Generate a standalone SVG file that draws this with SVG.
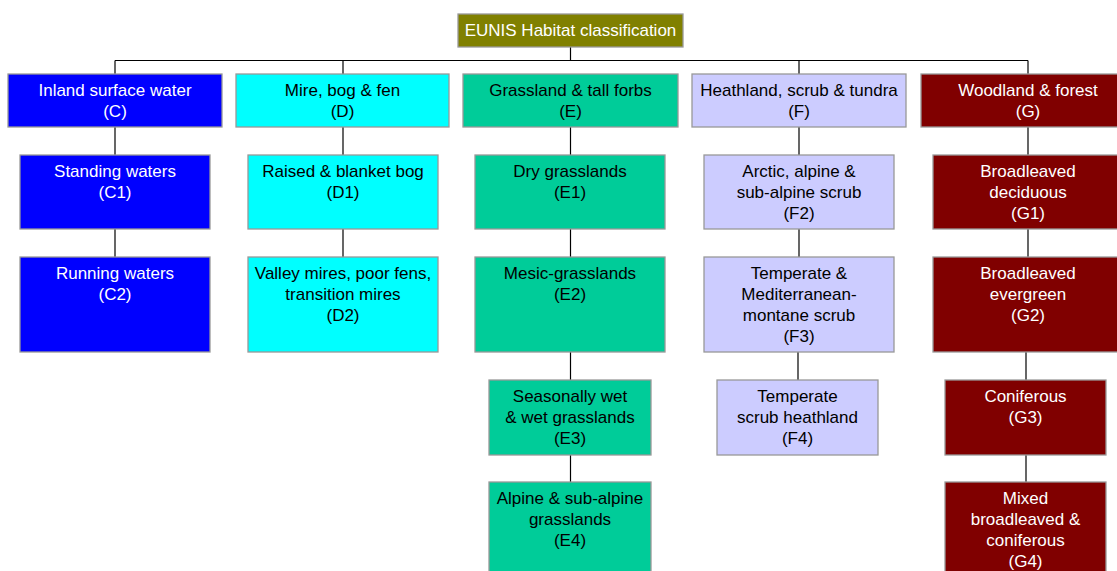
<svg xmlns="http://www.w3.org/2000/svg" width="1117" height="571" viewBox="0 0 1117 571">
<style>
g rect{stroke:#999999;stroke-width:1.3}
text{font-family:"Liberation Sans",Arial,sans-serif;font-size:17px;text-anchor:middle}
.root rect{fill:#808000}.root text{fill:#ffffff}
.c rect{fill:#0000ff}.c text{fill:#ffffff}
.d rect{fill:#00ffff}.d text{fill:#000000}
.e rect{fill:#00cc99}.e text{fill:#000000}
.f rect{fill:#ccccff}.f text{fill:#000000}
.g rect{fill:#800000}.g text{fill:#ffffff}
#connectors line{stroke:#000000;stroke-width:1.2}
</style>
<rect x="0" y="0" width="1117" height="571" fill="#ffffff"/>
<g id="connectors">
<line x1="570.5" y1="47" x2="570.5" y2="60.5"/>
<line x1="115" y1="60.5" x2="1028" y2="60.5"/>
<line x1="115" y1="60.5" x2="115" y2="74"/>
<line x1="343" y1="60.5" x2="343" y2="74"/>
<line x1="799" y1="60.5" x2="799" y2="74"/>
<line x1="1028" y1="60.5" x2="1028" y2="74"/>
<line x1="115" y1="127" x2="115" y2="155"/>
<line x1="115" y1="229" x2="115" y2="257"/>
<line x1="343" y1="127" x2="343" y2="155"/>
<line x1="343" y1="229" x2="343" y2="257"/>
<line x1="570.5" y1="127" x2="570.5" y2="155"/>
<line x1="570.5" y1="229" x2="570.5" y2="257"/>
<line x1="570.5" y1="352" x2="570.5" y2="380"/>
<line x1="570.5" y1="455" x2="570.5" y2="482"/>
<line x1="799" y1="127" x2="799" y2="155"/>
<line x1="799" y1="229" x2="799" y2="257"/>
<line x1="798" y1="352" x2="798" y2="380"/>
<line x1="1028" y1="127" x2="1028" y2="155"/>
<line x1="1028" y1="229" x2="1028" y2="257"/>
<line x1="1026" y1="352" x2="1026" y2="380"/>
<line x1="1026" y1="455" x2="1026" y2="482"/>
</g>
<g id="root" class="root"><rect x="458" y="14" width="225" height="33"/><text x="570.5" y="36">EUNIS Habitat classification</text></g>
<g id="C" class="c"><rect x="8" y="74" width="214" height="53"/><text x="115" y="96">Inland surface water</text><text x="115" y="117">(C)</text></g>
<g id="D" class="d"><rect x="236" y="74" width="213" height="53"/><text x="342.5" y="96">Mire, bog &amp; fen</text><text x="342.5" y="117">(D)</text></g>
<g id="E" class="e"><rect x="463" y="74" width="215" height="53"/><text x="570.5" y="96">Grassland &amp; tall forbs</text><text x="570.5" y="117">(E)</text></g>
<g id="F" class="f"><rect x="692" y="74" width="214" height="53"/><text x="799" y="96">Heathland, scrub &amp; tundra</text><text x="799" y="117">(F)</text></g>
<g id="G" class="g"><rect x="921" y="74" width="214" height="53"/><text x="1028" y="96">Woodland &amp; forest</text><text x="1028" y="117">(G)</text></g>
<g id="C1" class="c"><rect x="20" y="155" width="190" height="74"/><text x="115" y="177">Standing waters</text><text x="115" y="198">(C1)</text></g>
<g id="C2" class="c"><rect x="20" y="257" width="190" height="95"/><text x="115" y="279">Running waters</text><text x="115" y="300">(C2)</text></g>
<g id="D1" class="d"><rect x="248" y="155" width="190" height="74"/><text x="343" y="177">Raised &amp; blanket bog</text><text x="343" y="198">(D1)</text></g>
<g id="D2" class="d"><rect x="248" y="257" width="190" height="95"/><text x="343" y="279">Valley mires, poor fens,</text><text x="343" y="300">transition mires</text><text x="343" y="321">(D2)</text></g>
<g id="E1" class="e"><rect x="475" y="155" width="190" height="74"/><text x="570" y="177">Dry grasslands</text><text x="570" y="198">(E1)</text></g>
<g id="E2" class="e"><rect x="475" y="257" width="190" height="95"/><text x="570" y="279">Mesic-grasslands</text><text x="570" y="300">(E2)</text></g>
<g id="E3" class="e"><rect x="489" y="380" width="162" height="75"/><text x="570" y="402">Seasonally wet</text><text x="570" y="423">&amp; wet grasslands</text><text x="570" y="444">(E3)</text></g>
<g id="E4" class="e"><rect x="489" y="482" width="162" height="100"/><text x="570" y="504">Alpine &amp; sub-alpine</text><text x="570" y="525">grasslands</text><text x="570" y="546">(E4)</text></g>
<g id="F2" class="f"><rect x="704" y="155" width="190" height="74"/><text x="799" y="177">Arctic, alpine &amp;</text><text x="799" y="198">sub-alpine scrub</text><text x="799" y="219">(F2)</text></g>
<g id="F3" class="f"><rect x="704" y="257" width="190" height="95"/><text x="799" y="279">Temperate &amp;</text><text x="799" y="300">Mediterranean-</text><text x="799" y="321">montane scrub</text><text x="799" y="342">(F3)</text></g>
<g id="F4" class="f"><rect x="717" y="380" width="161" height="75"/><text x="797.5" y="402">Temperate</text><text x="797.5" y="423">scrub heathland</text><text x="797.5" y="444">(F4)</text></g>
<g id="G1" class="g"><rect x="933" y="155" width="190" height="74"/><text x="1028" y="177">Broadleaved</text><text x="1028" y="198">deciduous</text><text x="1028" y="219">(G1)</text></g>
<g id="G2" class="g"><rect x="933" y="257" width="190" height="95"/><text x="1028" y="279">Broadleaved</text><text x="1028" y="300">evergreen</text><text x="1028" y="321">(G2)</text></g>
<g id="G3" class="g"><rect x="945" y="380" width="161" height="75"/><text x="1025.5" y="402">Coniferous</text><text x="1025.5" y="423">(G3)</text></g>
<g id="G4" class="g"><rect x="945" y="482" width="161" height="100"/><text x="1025.5" y="504">Mixed</text><text x="1025.5" y="525">broadleaved &amp;</text><text x="1025.5" y="546">coniferous</text><text x="1025.5" y="567">(G4)</text></g>
</svg>
